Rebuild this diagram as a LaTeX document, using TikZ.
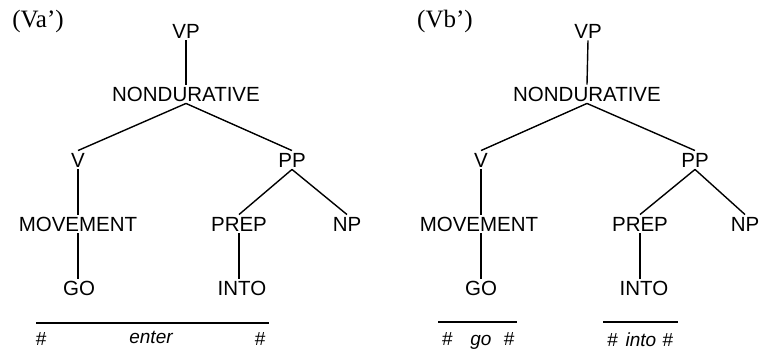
\documentclass[tikz,border=0pt]{standalone}
\usepackage{fontspec}
\setmainfont{Liberation Sans}
\newfontfamily\serifA{Liberation Serif}
\begin{document}
\begin{tikzpicture}[x=1pt,y=-1pt,
  lab/.style={font=\fontsize{20.5}{20.5}\selectfont, text height=14.5pt, text depth=0pt, inner sep=2pt},
  ttl/.style={font=\serifA\fontsize{25}{25}\selectfont, inner sep=0pt},
  word/.style={font=\itshape\fontsize{19}{19}\selectfont, inner sep=0pt},
  edge/.style={line width=1.4pt},
  bar/.style={line width=1.5pt}
]
\useasboundingbox (0,0) rectangle (761,352);
% ---------- left tree ----------
\node[ttl] (ta) at (38,21) {(Va’)};
\node[lab] (vpA) at (186,31) {VP};
\node[lab] (ndA) at (186,94) {NONDURATIVE};
\node[lab] (vA) at (78,160) {V};
\node[lab] (ppA) at (292,160) {PP};
\node[lab] (mvA) at (78,224) {MOVEMENT};
\node[lab] (prA) at (239,224) {PREP};
\node[lab] (npA) at (347,224) {NP};
\node[lab] (goA) at (79,288) {GO};
\node[lab] (inA) at (242,288) {INTO};
\draw[edge] (vpA.south) -- (ndA.north);
\draw[edge] (ndA.south) -- (vA.north);
\draw[edge] (ndA.south) -- (ppA.north);
\draw[edge] (vA.south) -- (mvA.north);
\draw[edge] (ppA.south) -- (prA.north);
\draw[edge] (ppA.south) -- (npA.north);
\draw[edge] (mvA.south) -- (mvA.south |- goA.north);
\draw[edge] (prA.south) -- (prA.south |- inA.north);
\coordinate (bA1) at (36,323);
\coordinate (bA2) at (269,323);
\draw[bar] (bA1) -- (bA2);
\node[word] (hA1) at (41,339) {\#};
\node[word] (enA) at (151,337) {enter};
\node[word] (hA2) at (260,339) {\#};
% ---------- right tree ----------
\node[ttl] (tb) at (445,21) {(Vb’)};
\node[lab] (vpB) at (588,31) {VP};
\node[lab] (ndB) at (587,94) {NONDURATIVE};
\node[lab] (vB) at (481,160) {V};
\node[lab] (ppB) at (695,160) {PP};
\node[lab] (mvB) at (479,224) {MOVEMENT};
\node[lab] (prB) at (640,224) {PREP};
\node[lab] (npB) at (745,224) {NP};
\node[lab] (goB) at (481,288) {GO};
\node[lab] (inB) at (644,288) {INTO};
\draw[edge] (vpB.south) -- (ndB.north);
\draw[edge] (ndB.south) -- (vB.north);
\draw[edge] (ndB.south) -- (ppB.north);
\draw[edge] (vB.south) -- (vB.south |- mvB.north);
\draw[edge] (ppB.south) -- (prB.north);
\draw[edge] (ppB.south) -- (npB.north);
\draw[edge] (vB.south |- mvB.south) -- (vB.south |- goB.north);
\draw[edge] (prB.south) -- (prB.south |- inB.north);
\coordinate (bB1) at (438,322);
\coordinate (bB2) at (517,322);
\draw[bar] (bB1) -- (bB2);
\coordinate (bC1) at (603,322);
\coordinate (bC2) at (678,322);
\draw[bar] (bC1) -- (bC2);
\node[word] (goW) at (478,341) {\#\hspace{18pt}go\hspace{12pt}\#};
\node[word] (inW) at (640,340) {\#\hspace{8pt}into\hspace{6pt}\#};
\end{tikzpicture}
\end{document}
